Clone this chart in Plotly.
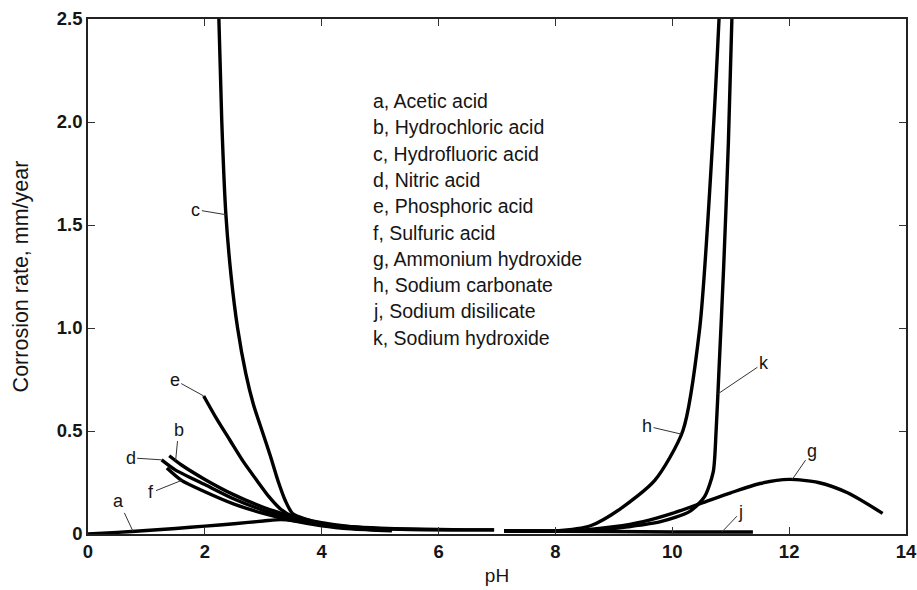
import numpy as np
import plotly.graph_objects as go

# ---- data ----
a_ph   = [0.0, 0.5, 1.0, 1.5, 2.0, 2.5, 3.0, 3.3, 3.6, 4.0, 4.5, 5.0, 5.5, 6.0, 6.5, 6.95]
a_rate = [0.0, 0.008, 0.017, 0.027, 0.038, 0.05, 0.063, 0.07, 0.062, 0.048, 0.035, 0.028, 0.024, 0.022, 0.02, 0.02]

b_ph   = [1.39, 1.6, 2.0, 2.5, 3.0, 3.5, 4.0, 4.5, 5.0, 5.5, 6.0, 6.5, 6.95]
b_rate = [0.38, 0.335, 0.265, 0.19, 0.13, 0.085, 0.055, 0.035, 0.026, 0.022, 0.02, 0.02, 0.02]

c_ph   = [2.24, 2.29, 2.36, 2.45, 2.56, 2.7, 2.83, 2.98, 3.12, 3.25, 3.38, 3.5, 3.75, 4.0, 4.5, 5.2]
c_rate = [2.5, 2.0, 1.55, 1.25, 1.0, 0.78, 0.63, 0.5, 0.38, 0.26, 0.16, 0.1, 0.07, 0.05, 0.03, 0.02]

d_ph   = [1.26, 1.5, 2.0, 2.5, 3.0, 3.5, 4.0, 4.5, 5.2]
d_rate = [0.36, 0.31, 0.24, 0.17, 0.115, 0.075, 0.045, 0.03, 0.02]

e_ph   = [1.98, 2.2, 2.43, 2.65, 2.89, 3.1, 3.3, 3.5, 3.8, 4.2, 5.0]
e_rate = [0.67, 0.56, 0.455, 0.355, 0.26, 0.18, 0.12, 0.085, 0.06, 0.04, 0.02]

f_ph   = [1.35, 1.6, 2.0, 2.5, 3.0, 3.5, 4.0, 4.5, 5.2]
f_rate = [0.32, 0.26, 0.205, 0.145, 0.1, 0.065, 0.04, 0.025, 0.015]

g_ph   = [7.12, 8.0, 8.5, 9.0, 9.5, 10.0, 10.5, 11.0, 11.5, 12.0, 12.5, 13.0, 13.6]
g_rate = [0.015, 0.015, 0.02, 0.035, 0.06, 0.1, 0.15, 0.2, 0.245, 0.265, 0.25, 0.2, 0.1]

h_ph   = [7.12, 8.0, 8.6, 9.1, 9.7, 10.18, 10.47, 10.71, 10.8]
h_rate = [0.015, 0.015, 0.04, 0.12, 0.26, 0.5, 1.0, 2.0, 2.5]

j_ph   = [7.12, 9.0, 10.0, 11.38]
j_rate = [0.015, 0.012, 0.01, 0.01]

k_ph   = [7.12, 8.6, 9.24, 9.8, 10.3, 10.55, 10.7, 10.75, 10.8, 10.88, 10.96, 11.02]
k_rate = [0.015, 0.015, 0.035, 0.06, 0.11, 0.18, 0.3, 0.5, 0.8, 1.3, 1.9, 2.5]

legend_lines = ["a, Acetic acid", "b, Hydrochloric acid", "c, Hydrofluoric acid",
                "d, Nitric acid", "e, Phosphoric acid", "f, Sulfuric acid",
                "g, Ammonium hydroxide", "h, Sodium carbonate",
                "j, Sodium disilicate", "k, Sodium hydroxide"]

x_ticks = [0, 2, 4, 6, 8, 10, 12, 14]
y_ticks = [0, 0.5, 1.0, 1.5, 2.0, 2.5]
y_tick_text = ["0", "0.5", "1.0", "1.5", "2.0", "2.5"]

curves = {
    "a": (a_ph, a_rate), "b": (b_ph, b_rate), "c": (c_ph, c_rate),
    "d": (d_ph, d_rate), "e": (e_ph, e_rate), "f": (f_ph, f_rate),
    "g": (g_ph, g_rate), "h": (h_ph, h_rate), "j": (j_ph, j_rate),
    "k": (k_ph, k_rate),
}

FONT = "Liberation Sans, Arial, sans-serif"
INK = "#151515"

fig = go.Figure()
for name, (xs, ys) in curves.items():
    fig.add_trace(go.Scatter(x=xs, y=ys, mode="lines", name=name,
                             line=dict(color="black", width=3.4, shape="spline", smoothing=0.7),
                             showlegend=False, hoverinfo="skip"))

# leader labels: (curve, pH on curve, text dx, text dy)
leaders = [("a", 0.77, -14, -30), ("b", 1.5, 3, -31), ("c", 2.36, -30, -5),
           ("d", 1.26, -31, -2), ("e", 1.98, -29, -16), ("f", 1.6, -30, 12),
           ("g", 12.05, 20, -29), ("h", 10.15, -34, -8), ("j", 10.85, 19, -20),
           ("k", 10.78, 46, -31)]
for name, ph, dx, dy in leaders:
    xs, ys = curves[name]
    yv = float(np.interp(ph, xs, ys))
    fig.add_annotation(x=ph, y=yv, xref="x", yref="y", text=name, showarrow=True,
                       arrowhead=0, arrowwidth=1, arrowcolor="#333", ax=dx, ay=dy,
                       standoff=0, font=dict(family=FONT, size=18, color=INK))

for i, t in enumerate(legend_lines):
    py = 101 + i * 26.3
    fig.add_annotation(x=(371 - 88) / 818, y=(534 - py) / 515, xref="paper", yref="paper",
                       text=t, showarrow=False, xanchor="left", yanchor="middle",
                       font=dict(family=FONT, size=19.5, color=INK))

axis_common = dict(showline=True, linecolor="#222", linewidth=1.5, mirror="allticks",
                   ticks="inside", ticklen=7, tickwidth=1, tickcolor="#333",
                   showgrid=False, zeroline=False, automargin=False,
                   tickfont=dict(family=FONT, size=18.5, color=INK, weight="bold"))

fig.update_xaxes(range=[0, 14], tickvals=x_ticks, ticktext=[str(v) for v in x_ticks],
                 title=dict(text="pH", font=dict(family=FONT, size=19, color=INK), standoff=8),
                 **axis_common)
fig.update_yaxes(range=[0, 2.5], tickvals=y_ticks, ticktext=y_tick_text,
                 title=dict(text="Corrosion rate, mm/year", font=dict(family=FONT, size=21.5, color=INK), standoff=22),
                 **axis_common)

fig.update_layout(width=917, height=590, margin=dict(l=88, r=11, t=19, b=56),
                  plot_bgcolor="white", paper_bgcolor="white")

fig.write_html("out.html")
